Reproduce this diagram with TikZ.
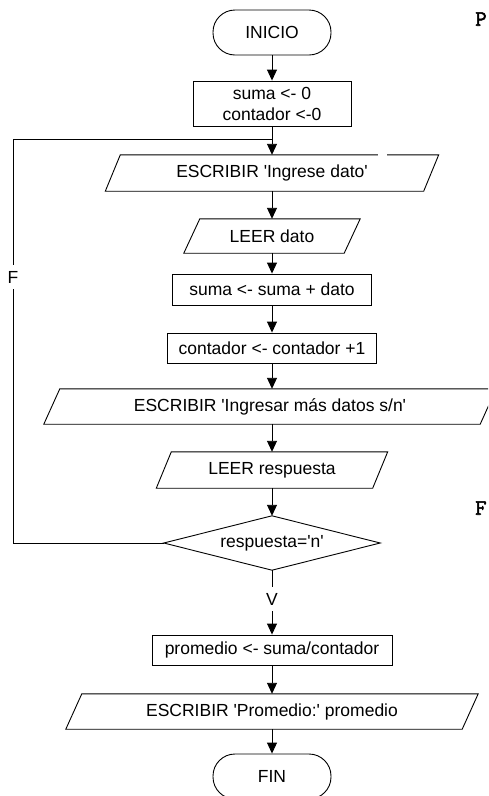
\documentclass[tikz,border=0pt]{standalone}
\usepackage{fontspec}
\setmainfont{Liberation Sans}
\newfontfamily\courb[FakeBold=2.5]{Latin Modern Mono}
\usetikzlibrary{arrows.meta}
\newcommand\myPgram[2]{\draw[ln] ([xshift=-#2]#1.south west) -- ([xshift=#2]#1.north west) -- ([xshift=#2]#1.north east) -- ([xshift=-#2]#1.south east) -- cycle;}
\tikzset{
  lbl/.style={font=\fontsize{17.5}{21}\selectfont},
  ln/.style={line width=0.9pt},
  box/.style={draw, ln, inner sep=0pt, lbl, align=center},
  term/.style={box, rounded corners=22pt},
  io/.style={inner sep=0pt, lbl, align=center},
  flow/.style={ln, -{Triangle[width=10pt,length=11pt]}},
  tag/.style={lbl, fill=white, inner xsep=2pt, inner ysep=6pt},
  side/.style={font=\courb\fontsize{22}{24}\selectfont, inner sep=0pt}
}
\begin{document}
\begin{tikzpicture}[x=1pt, y=-1pt]
\useasboundingbox (0,0) rectangle (488,796);
\fill[white] (0,0) rectangle (488,796);
\clip (0,0) rectangle (488,796);

% nodes
\node[term, minimum width=118pt, minimum height=45pt] (inicio) at (272,32.5) {INICIO};
\node[box, minimum width=158pt, minimum height=45pt] (init) at (272,103.5) {suma <- 0\\contador <-0};
\node[io, minimum width=318pt, minimum height=36pt] (esc1) at (272,173) {ESCRIBIR \textquotesingle Ingrese dato\textquotesingle};
\node[io, minimum width=160pt, minimum height=34pt] (leer1) at (272,236) {LEER dato};
\node[box, minimum width=199pt, minimum height=31pt] (suma) at (272,289.5) {suma <- suma + dato};
\node[box, minimum width=209pt, minimum height=30pt] (cont) at (272,348) {contador <- contador +1};
\node[io, minimum width=436pt, minimum height=35pt] (esc2) at (270,406.5) {ESCRIBIR \textquotesingle Ingresar más datos s/n\textquotesingle};
\node[io, minimum width=216pt, minimum height=36pt] (leer2) at (272,470) {LEER respuesta};
\node[io, minimum width=216pt, minimum height=54pt] (dec) at (272,543) {respuesta=\textquotesingle n\textquotesingle};
\node[box, minimum width=240pt, minimum height=30pt] (prom) at (272,650) {promedio <- suma/contador};
\node[io, minimum width=396pt, minimum height=35pt] (esc3) at (272,711.5) {ESCRIBIR \textquotesingle Promedio:\textquotesingle\ promedio};
\node[term, minimum width=118pt, minimum height=45pt] (fin) at (272,776.5) {FIN};

% shapes drawn around the io nodes
\myPgram{esc1}{7.5pt}
\myPgram{leer1}{8pt}
\myPgram{esc2}{8pt}
\myPgram{leer2}{7.5pt}
\myPgram{esc3}{8pt}
\draw[ln] (dec.north) -- (dec.east) -- (dec.south) -- (dec.west) -- cycle;
\fill[white] (378,153) rectangle (387,157);

% connectors
\draw[flow] (inicio) -- (init);
\draw[flow] (init) -- (esc1);
\draw[flow] (esc1) -- (leer1);
\draw[flow] (leer1) -- (suma);
\draw[flow] (suma) -- (cont);
\draw[flow] (cont.south) -- (cont.south |- esc2.north);
\draw[flow] (esc2.south -| leer2.north) -- (leer2.north);
\draw[flow] (leer2) -- (dec.north);
\draw[flow] (dec.south) -- node[tag, pos=0.45] (vlab) {V} (prom);
\draw[flow] (prom) -- (esc3);
\draw[flow] (esc3) -- (fin);

% loop back
\coordinate (lc) at (13,139);
\coordinate (jn) at (272,139);
\draw[ln] (dec.west) -| (lc) -- (jn);
\node[tag, inner xsep=1pt] (flab) at (13,277) {F};

% cropped side letters
\node[side, anchor=center] (pl) at (481,19) {P};
\node[side, anchor=west] (fl) at (475,508) {F};
\end{tikzpicture}
\end{document}
